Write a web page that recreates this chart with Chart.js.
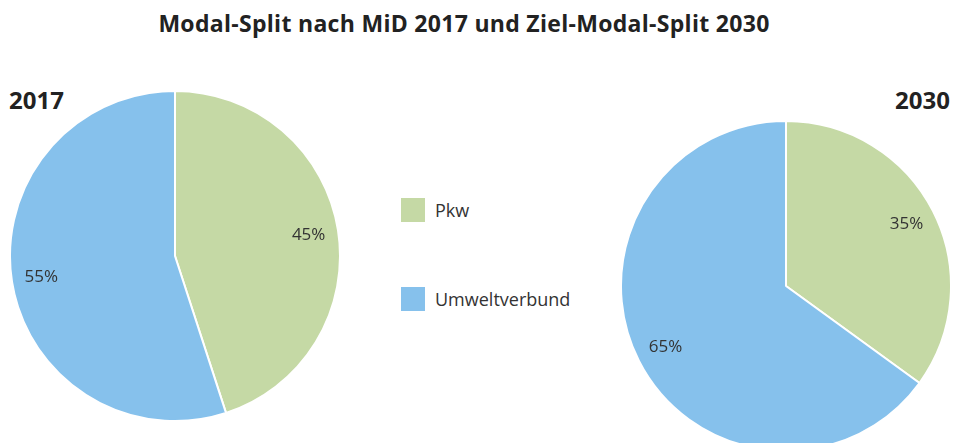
<!DOCTYPE html>
<html>
<head>
<meta charset="utf-8">
<script src="https://cdn.jsdelivr.net/npm/chart.js@4.4.0/dist/chart.umd.min.js"></script>
<style>
  html, body { margin: 0; padding: 0; background: #fff; }
  body { width: 954px; height: 443px; overflow: hidden; position: relative; font-family: "Open Sans", sans-serif; color: #222; }
  .title { position: absolute; left: 0; width: 928px; top: 7px; text-align: center; font-weight: 700; font-size: 23px; letter-spacing: 0.3px; }
  .year { position: absolute; top: 83px; font-weight: 700; font-size: 24px; }
  .pie { position: absolute; width: 332px; height: 332px; }
  .legend-item { position: absolute; left: 401px; display: flex; align-items: center; font-size: 18px; color: #333; }
  .legend-item .box { width: 24px; height: 24px; margin-right: 10px; }
</style>
</head>
<body>
<div class="title">Modal-Split nach MiD 2017 und Ziel-Modal-Split 2030</div>
<div class="year" style="left:9px">2017</div>
<div class="year" style="right:4px">2030</div>

<div class="pie" style="left:9px;top:90px"><canvas id="pie-2017"></canvas></div>
<div class="pie" style="left:620px;top:120px"><canvas id="pie-2030"></canvas></div>

<div id="legend"></div>

<script>
// Daten
const categories = ['Pkw', 'Umweltverbund'];
const values2017 = [45, 55];
const values2030 = [35, 65];
const colors = ['#c5d9a5', '#86c1ec'];

// Legende
const legendTops = [198, 287];
document.getElementById('legend').innerHTML = categories.map((c, i) => `
  <div class="legend-item" style="top:${legendTops[i]}px">
    <div class="box" style="background:${colors[i]}"></div>${c}
  </div>
`).join('');

// Prozentwerte in den Segmenten
const pctLabels = {
  id: 'pctLabels',
  afterDatasetsDraw(chart) {
    const { ctx } = chart;
    const meta = chart.getDatasetMeta(0);
    ctx.save();
    ctx.font = '17px "Open Sans", sans-serif';
    ctx.fillStyle = '#333';
    ctx.textAlign = 'center';
    ctx.textBaseline = 'middle';
    meta.data.forEach((arc, i) => {
      const mid = (arc.startAngle + arc.endAngle) / 2;
      const r = arc.outerRadius * 0.82;
      ctx.fillText(chart.data.datasets[0].data[i] + '%', arc.x + Math.cos(mid) * r, arc.y + Math.sin(mid) * r);
    });
    ctx.restore();
  }
};

const makePie = (id, values) => new Chart(document.getElementById(id), {
  type: 'pie',
  data: {
    labels: categories,
    datasets: [{
      data: values,
      backgroundColor: colors,
      borderColor: '#fff',
      borderWidth: 2
    }]
  },
  options: {
    responsive: true,
    maintainAspectRatio: false,
    animation: false,
    layout: { padding: 0 },
    plugins: { legend: { display: false }, tooltip: { enabled: false } }
  },
  plugins: [pctLabels]
});

makePie('pie-2017', values2017);
makePie('pie-2030', values2030);
</script>
</body>
</html>
